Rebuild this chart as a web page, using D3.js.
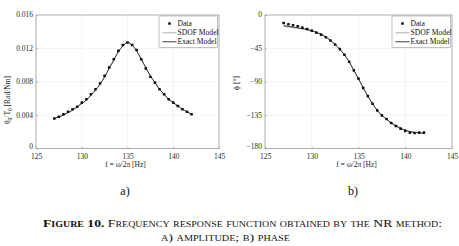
<!DOCTYPE html>
<html><head><meta charset="utf-8">
<script src="https://cdn.jsdelivr.net/npm/d3@7"></script>
<style>
html,body{margin:0;padding:0;background:#fff;}
svg{display:block;}
text{font-family:"Liberation Serif","DejaVu Serif",serif;}
</style></head>
<body>
<svg id="c" width="459" height="246"></svg>
<script>
// ---- data ----
const freq = [127,127.5,128,128.5,129,129.5,130,130.5,131,131.5,132,132.5,133,133.5,134,134.5,135,135.5,136,136.5,137,137.5,138,138.5,139,139.5,140,140.5,141,141.5,142];
const ampData = [0.0036,0.0038,0.0041,0.0044,0.0047,0.0050,0.0055,0.0059,0.0065,0.0071,0.0078,0.0087,0.0097,0.0107,0.0117,0.0124,0.0127,0.0124,0.0118,0.0107,0.0096,0.0086,0.0079,0.0071,0.0065,0.0059,0.0055,0.0051,0.0047,0.0044,0.0041];
const ampSDOF  = [0.0036,0.0038,0.0040,0.0043,0.0046,0.0050,0.0054,0.0058,0.0064,0.0070,0.0077,0.0086,0.0096,0.0106,0.0116,0.0123,0.0127,0.0124,0.0117,0.0107,0.0097,0.0087,0.0079,0.0071,0.0065,0.0059,0.0055,0.0051,0.0047,0.0044,0.0041];
const ampExact = [0.0036,0.0038,0.0040,0.0043,0.0046,0.0050,0.0054,0.0058,0.0064,0.0070,0.0077,0.0086,0.0096,0.0106,0.0116,0.0123,0.0127,0.0124,0.0117,0.0107,0.0097,0.0087,0.0079,0.0071,0.0065,0.0059,0.0055,0.0051,0.0047,0.0044,0.0041];
const phData  = [-10.7,-12.5,-13.8,-15.2,-17.0,-18.8,-21.0,-23.7,-26.4,-29.9,-34.4,-39.7,-46.0,-53.6,-63.0,-74.6,-85.8,-98.3,-109.4,-119.7,-128.6,-135.3,-140.2,-145.6,-149.6,-153.2,-156.3,-158.6,-159.0,-158.6,-158.6];
const phSDOF  = [-15.5,-16.3,-17.1,-18.0,-19.0,-20.2,-21.7,-23.6,-26.2,-29.6,-34.2,-39.7,-46.2,-53.8,-63.0,-74.5,-86.0,-98.2,-109.4,-119.6,-128.4,-135.2,-140.5,-145.5,-149.5,-152.8,-155.4,-157.2,-158.3,-158.9,-159.3];
const phExact = [-14.5,-15.3,-16.2,-17.2,-18.3,-19.6,-21.2,-23.3,-26.0,-29.6,-34.2,-39.7,-46.2,-53.8,-63.0,-74.5,-86.0,-98.2,-109.4,-119.6,-128.4,-135.2,-140.5,-145.5,-149.5,-152.8,-155.4,-157.2,-158.3,-158.9,-159.3];
const xTicks = [125,130,135,140,145];
const ampTicks = [0,0.004,0.008,0.012,0.016];
const phTicks = [-180,-135,-90,-45,0];
const legendLabels = ["Data","SDOF Model","Exact Model"];
const panelLabels = ["a)","b)"];

const svg = d3.select("#c");
const tickCol = "#2a2a2a", boxCol = "#9a9a9a", gridCol = "#ececec";

function panel(cfg){
  const x = d3.scaleLinear().domain([125,145]).range([cfg.x0,cfg.x1]);
  const y = d3.scaleLinear().domain(cfg.ydom).range([148.5,15]);
  const g = svg.append("g");
  // grid
  g.selectAll(".gx").data(xTicks.slice(1,-1)).join("line")
    .attr("x1",d=>x(d)).attr("x2",d=>x(d)).attr("y1",15).attr("y2",148.5)
    .attr("stroke",gridCol).attr("stroke-width",0.6);
  g.selectAll(".gy").data(cfg.yticks.slice(1,-1)).join("line")
    .attr("y1",d=>y(d)).attr("y2",d=>y(d)).attr("x1",cfg.x0).attr("x2",cfg.x1)
    .attr("stroke",gridCol).attr("stroke-width",0.6);
  // axes
  const ax = g.append("g").attr("transform","translate(0,148.5)")
    .call(d3.axisBottom(x).tickValues(xTicks).tickSize(-2).tickPadding(5.5).tickFormat(d3.format("d")));
  const ay = g.append("g").attr("transform",`translate(${cfg.x0},0)`)
    .call(d3.axisLeft(y).tickValues(cfg.yticks).tickSize(-2).tickPadding(3).tickFormat(cfg.fmt));
  [ax,ay].forEach(a=>{
    a.select(".domain").remove();
    a.selectAll("line").attr("stroke",boxCol).attr("stroke-width",0.6);
    a.selectAll("text").attr("fill",tickCol).style("font-size","7.5px").style("font-family","Liberation Serif");
  });
  ax.selectAll("text").attr("dy","0.62em");
  ay.selectAll("text").attr("dy",d=>d===cfg.ydom[0]?"0.05em":"0.25em");
  g.append("rect").attr("x",cfg.x0).attr("y",15).attr("width",cfg.x1-cfg.x0).attr("height",133.5)
    .attr("fill","none").attr("stroke",boxCol).attr("stroke-width",0.8);
  // lines
  const line = d3.line().x((d,i)=>x(freq[i])).y(d=>y(d)).curve(d3.curveMonotoneX);
  g.append("path").attr("d",line(cfg.sdof)).attr("fill","none").attr("stroke","#b0b0b0").attr("stroke-width",1);
  g.append("path").attr("d",line(cfg.exact)).attr("fill","none").attr("stroke","#262626").attr("stroke-width",0.9);
  g.selectAll(".pt").data(cfg.data).join("rect")
    .attr("x",(d,i)=>x(freq[i])-1.3).attr("y",d=>y(d)-1.3).attr("width",2.6).attr("height",2.6)
    .attr("rx",0.6).attr("fill","#111");
  // legend
  const lx = cfg.x1-60, ly = 16;
  g.append("rect").attr("x",lx).attr("y",ly).attr("width",58.5).attr("height",31.5)
    .attr("fill","#fff").attr("stroke",boxCol).attr("stroke-width",0.6);
  const rows=[ly+7.5, ly+16.8, ly+25.8];
  g.append("rect").attr("x",lx+9.2).attr("y",rows[0]-1.3).attr("width",2.6).attr("height",2.6).attr("rx",0.6).attr("fill","#111");
  g.append("line").attr("x1",lx+3.5).attr("x2",lx+17.5).attr("y1",rows[1]).attr("y2",rows[1]).attr("stroke","#b0b0b0").attr("stroke-width",1);
  g.append("line").attr("x1",lx+3.5).attr("x2",lx+17.5).attr("y1",rows[2]).attr("y2",rows[2]).attr("stroke","#262626").attr("stroke-width",0.9);
  legendLabels.forEach((t,i)=>{
    g.append("text").attr("x",lx+18.5).attr("y",rows[i]).attr("dy","0.35em")
      .attr("fill","#111").style("font-size","7.6px").text(t);
  });
  // x label
  g.append("text").attr("x",(cfg.x0+cfg.x1)/2-2).attr("y",164.5).attr("dy","0.35em")
    .attr("text-anchor","middle").attr("fill","#222").style("font-size","7.5px")
    .text("f = ω/2π [Hz]");
  // y label
  const yl = g.append("text").attr("transform",`translate(${cfg.ylx},${cfg.yly}) rotate(-90)`)
    .attr("text-anchor","middle").attr("dy","0.35em").attr("fill","#222").style("font-size","7.5px");
  cfg.ylabel(yl);
  // panel letter
  svg.append("text").attr("x",cfg.px).attr("y",190.5).attr("dy","0.35em").attr("text-anchor","middle")
    .attr("fill","#111").style("font-size","12px").text(cfg.letter);
}

panel({x0:36,x1:219,ydom:[0,0.016],yticks:ampTicks,fmt:d=>d===0?"0":d3.format(".3f")(d),
  data:ampData,sdof:ampSDOF,exact:ampExact,ylx:7.5,yly:100,px:125,letter:panelLabels[0],
  ylabel:t=>{t.append("tspan").text("θ");t.append("tspan").attr("baseline-shift","-25%").style("font-size","5.5px").text("0");
    t.append("tspan").text("/T");t.append("tspan").attr("baseline-shift","-25%").style("font-size","5.5px").text("0");
    t.append("tspan").text(" [Rad/Nm]");}});
panel({x0:265,x1:452,ydom:[-180,0],yticks:phTicks,fmt:d3.format("d"),
  data:phData,sdof:phSDOF,exact:phExact,ylx:236.5,yly:83,px:353,letter:panelLabels[1],
  ylabel:t=>t.text("ϕ [°]")});

// caption
const cap1 = svg.append("text").attr("x",242.5).attr("y",223.5).attr("dy","0.35em").attr("text-anchor","middle")
  .attr("fill","#111").style("font-size","11px").style("font-variant","small-caps")
  .attr("textLength",399).attr("lengthAdjust","spacingAndGlyphs");
cap1.append("tspan").style("font-weight","600").text("Figure 10.");
cap1.append("tspan").text(" Frequency response function obtained by the NR method:");
svg.append("text").attr("x",225.5).attr("y",237.5).attr("dy","0.35em").attr("text-anchor","middle")
  .attr("fill","#111").style("font-size","11px").style("font-variant","small-caps")
  .attr("textLength",129).attr("lengthAdjust","spacingAndGlyphs")
  .text("a) amplitude; b) phase");
</script>
</body></html>
